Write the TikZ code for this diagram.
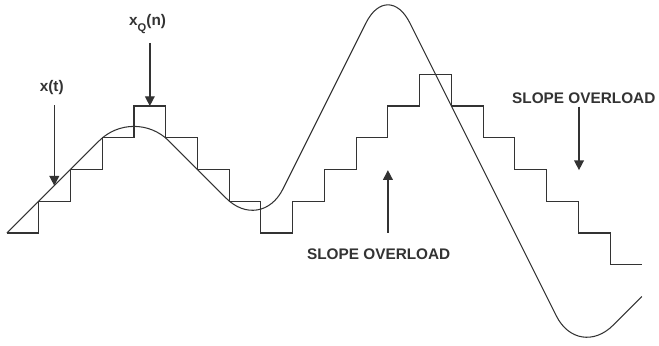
\documentclass[tikz,border=0pt]{standalone}
\usepackage{fontspec}
\setmainfont{Liberation Sans}
\usetikzlibrary{arrows.meta,positioning}

\begin{document}
\begin{tikzpicture}[x=0.8cm, y=0.8cm,
  signal/.style={draw=black!80, line width=0.75pt, rounded corners=12.4mm},
  stairs/.style={draw=black!80, line width=0.8pt},
  pointer/.style={-{Triangle[length=7pt, width=7pt]}, draw=black!80, line width=1pt},
  label/.style={font=\bfseries\fontsize{11}{13}\selectfont, text=black!80, inner sep=0pt, anchor=base},
]

\useasboundingbox (-0.22,-3.53) rectangle (20.54,7.34);

% === input signal x(t) ===
\draw[signal] (0,0) -- (4,4) -- (8,0) -- (12,8) -- (18,-4) -- (20,-2);

% === delta modulator output x_Q(n) ===
\draw[stairs] (0,0) -| (1,1) -| (2,2) -| (3,3) -| (4,4) -| (5,3) -| (6,2) -| (7,1) -| (8,0)
  -| (9,1) -| (10,2) -| (11,3) -| (12,4) -| (13,5) -| (14,4) -| (15,3) -| (16,2) -| (17,1)
  -| (18,0) -| (19,-1) -- (20,-1);

% === labels ===
\node[label] (xt) at (1.41,4.47) {x(t)};
\node[label] (xq) at (4.43,6.53) {x\raisebox{-4.5pt}{\fontsize{8}{9}\selectfont Q}(n)};
\node[label] (over1) at (11.71,-0.82) {SLOPE OVERLOAD};
\node[label] (over2) at (18.17,4.09) {SLOPE OVERLOAD};

% === pointers ===
\coordinate (xt-tail) at (1.49,4.03);
\coordinate (xt-tip) at (1.49,1.49);
\coordinate (xq-tail) at (4.5,5.99);
\coordinate (xq-tip) at (4.5,4);
\coordinate (over1-tail) at (12,0);
\coordinate (over1-tip) at (12,1.98);
\coordinate (over2-tail) at (18.02,3.98);
\coordinate (over2-tip) at (18.02,1.98);

\draw[pointer] (xt-tail) -- (xt-tip);
\draw[pointer] (xq-tail) -- (xq-tip);
\draw[pointer] (over1-tail) -- (over1-tip);
\draw[pointer] (over2-tail) -- (over2-tip);

\end{tikzpicture}
\end{document}
